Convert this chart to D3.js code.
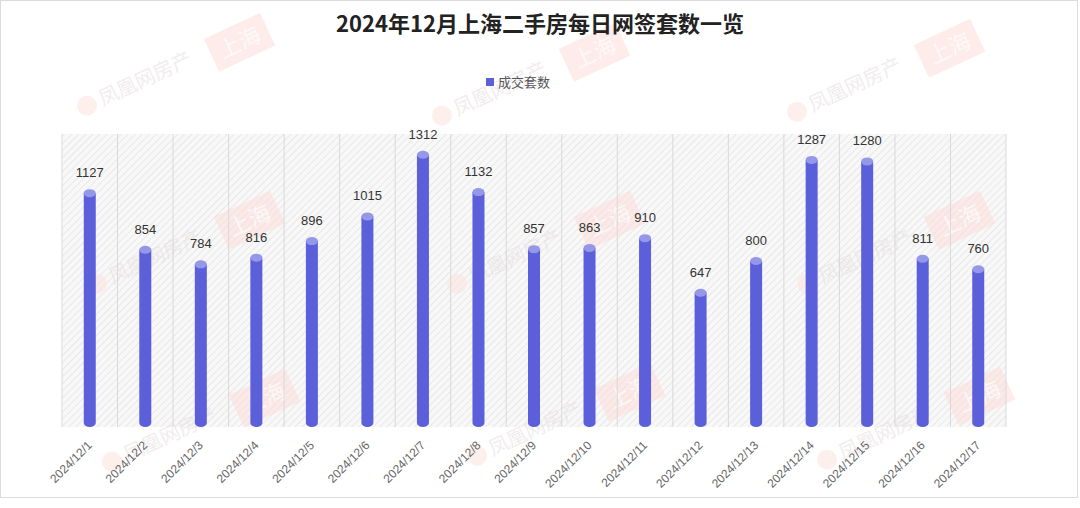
<!DOCTYPE html>
<html>
<head>
<meta charset="utf-8">
<script src="https://cdn.jsdelivr.net/npm/d3@7"></script>
<style>
  body { margin: 0; background: #fff; }
  text { font-family: "Liberation Sans", "Noto Sans CJK SC", sans-serif; }
  .cjk { font-family: "Noto Sans CJK SC", sans-serif; }
</style>
</head>
<body>
<div id="chart"></div>
<script>
var dates = ["2024/12/1","2024/12/2","2024/12/3","2024/12/4","2024/12/5","2024/12/6","2024/12/7","2024/12/8","2024/12/9","2024/12/10","2024/12/11","2024/12/12","2024/12/13","2024/12/14","2024/12/15","2024/12/16","2024/12/17"];
var values = [1127,854,784,816,896,1015,1312,1132,857,863,910,647,800,1287,1280,811,760];
var seriesName = "成交套数";
var title = "2024年12月上海二手房每日网签套数一览";

width = 1080
height = 508

var svg = d3.select('#chart').append('svg').attr('width', width).attr('height', height)

// outer frame
svg.append('rect').attr('x', 0.5).attr('y', 0.5).attr('width', 1077).attr('height', 497)
   .attr('fill', '#fff').attr('stroke', '#dcdcdc')

var defs = svg.append('defs')
var pat = defs.append('pattern').attr('id', 'hatch').attr('patternUnits', 'userSpaceOnUse')
    .attr('width', 5).attr('height', 5).attr('patternTransform', 'rotate(45)')
pat.append('rect').attr('width', 5).attr('height', 5).attr('fill', '#f8f8f8')
pat.append('line').attr('x1', 0).attr('y1', 0).attr('x2', 0).attr('y2', 5)
   .attr('stroke', '#dedede').attr('stroke-width', 1.2)

x = d3.scaleBand().domain(dates).range([62, 1006]).padding(0)
y = d3.scaleLinear().domain([0, 1412]).range([427, 134])

// hatched plot background
svg.append('rect').attr('x', 62).attr('y', 134).attr('width', 944).attr('height', 293)
   .attr('fill', 'url(#hatch)')

// watermarks (very faint)
var wm = svg.append('g')
var wmPos = [[90,112],[445,122],[800,118],[100,290],[460,290],[810,290],[115,468],[480,462],[830,466]]
wmPos.forEach(function(p) {
  var g = wm.append('g').attr('transform', 'translate(' + p[0] + ',' + p[1] + ') rotate(-25)')
  g.append('circle').attr('cx', 0).attr('cy', -7).attr('r', 10).attr('fill', '#fbe4e0').attr('opacity', 0.6)
  g.append('text').attr('class', 'cjk').attr('x', 14).attr('y', 0).attr('font-size', 20)
   .attr('fill', '#e6e0e0').attr('opacity', 0.55).text('凤凰网房产')
  g.append('rect').attr('x', 134).attr('y', -18).attr('width', 62).attr('height', 36)
   .attr('fill', '#fbdcd8').attr('opacity', 0.55)
  g.append('text').attr('class', 'cjk').attr('x', 165).attr('y', 8).attr('text-anchor', 'middle')
   .attr('font-size', 22).attr('fill', '#fff').attr('opacity', 0.7).text('上海')
})

// band dividers
svg.append('g').selectAll('line').data(d3.range(dates.length + 1)).join('line')
   .attr('x1', d => 62 + d * x.bandwidth()).attr('x2', d => 62 + d * x.bandwidth())
   .attr('y1', 134).attr('y2', 427)
   .attr('stroke', '#d9d9d9').attr('stroke-width', 1)

var bw = 12
var bars = svg.append('g').selectAll('g').data(values).join('g')

bars.append('path')
    .attr('d', function(d, i) {
      var cx = x(dates[i]) + x.bandwidth() / 2
      var top = y(d), bot = y(0)
      return 'M' + (cx - bw/2) + ',' + top + 'L' + (cx - bw/2) + ',' + (bot - 4) +
        'A' + bw/2 + ',4 0 0 0 ' + (cx + bw/2) + ',' + (bot - 4) +
        'L' + (cx + bw/2) + ',' + top + 'Z'
    })
    .attr('fill', '#5b5fd9')

bars.append('ellipse')
    .attr('cx', (d, i) => x(dates[i]) + x.bandwidth() / 2)
    .attr('cy', d => y(d))
    .attr('rx', bw / 2).attr('ry', 4)
    .attr('fill', '#9598e8')

bars.append('text')
    .attr('x', (d, i) => x(dates[i]) + x.bandwidth() / 2)
    .attr('y', d => y(d) - 16)
    .attr('text-anchor', 'middle')
    .attr('font-size', 13).attr('fill', '#333')
    .text(d => d)

// x labels
svg.append('g').selectAll('text').data(dates).join('text')
   .attr('transform', d => 'translate(' + (x(d) + x.bandwidth() / 2 + 3) + ',446) rotate(-45)')
   .attr('text-anchor', 'end')
   .attr('font-size', 12).attr('fill', '#666')
   .text(d => d)

// title
svg.append('text').attr('class', 'cjk').attr('x', 540).attr('y', 32).attr('text-anchor', 'middle')
   .attr('font-size', 22).attr('font-weight', 'bold').attr('fill', '#222').text(title)

// legend
svg.append('rect').attr('x', 486).attr('y', 78).attr('width', 8).attr('height', 8).attr('fill', '#5b5fd9')
svg.append('text').attr('class', 'cjk').attr('x', 498).attr('y', 87).attr('font-size', 13).attr('fill', '#555').text(seriesName)
</script>
</body>
</html>
